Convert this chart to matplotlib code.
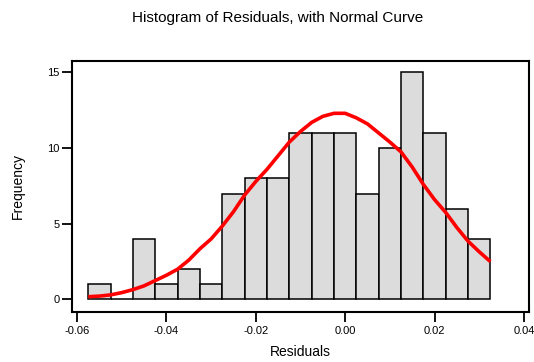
import numpy as np
import matplotlib
matplotlib.use("Agg")
import matplotlib.pyplot as plt

plt.rcParams['font.family'] = ['Liberation Sans', 'DejaVu Sans']

# histogram: bin edges and counts of the residuals
bin_edges = [-0.0575, -0.0525, -0.0475, -0.0425, -0.0375, -0.0325, -0.0275,
             -0.0225, -0.0175, -0.0125, -0.0075, -0.0025, 0.0025, 0.0075,
             0.0125, 0.0175, 0.0225, 0.0275, 0.0325]
counts = [1, 0, 4, 1, 2, 1, 7, 8, 8, 11, 11, 11, 7, 10, 15, 11, 6, 4]

# normal curve
curve_x = [-0.0575, -0.055, -0.0525, -0.05, -0.0475, -0.045, -0.0425, -0.04,
           -0.0375, -0.035, -0.0325, -0.03, -0.0275, -0.025, -0.0225, -0.02,
           -0.0175, -0.015, -0.0125, -0.01, -0.0075, -0.005, -0.0025, 0.0,
           0.0025, 0.005, 0.0075, 0.01, 0.0125, 0.015, 0.0175, 0.02, 0.0225,
           0.025, 0.0275, 0.03, 0.0325]
curve_y = [0.18, 0.22, 0.3, 0.45, 0.65, 0.9, 1.25, 1.6, 2.0, 2.6, 3.35, 4.0,
           4.85, 5.8, 6.9, 7.8, 8.6, 9.5, 10.4, 11.1, 11.7, 12.1, 12.3, 12.3,
           12.0, 11.6, 11.0, 10.4, 9.75, 8.75, 7.6, 6.6, 5.75, 4.75, 3.85,
           3.15, 2.5]

x_ticks = [-0.06, -0.04, -0.02, 0.00, 0.02, 0.04]
y_ticks = [0, 5, 10, 15]

fig = plt.figure(figsize=(5.34, 3.62), dpi=100)
ax = fig.add_axes([0.134, 0.139, 0.857, 0.693])

edges = np.array(bin_edges)
ax.bar(edges[:-1], counts, width=np.diff(edges), align='edge',
       color='#dcdcdc', edgecolor='black', linewidth=1.1, zorder=2)
ax.plot(curve_x, curve_y, color='red', linewidth=2.6, zorder=3,
        solid_capstyle='butt')

ax.set_xlim(-0.06125, 0.04119)
ax.set_ylim(-0.81, 15.77)
ax.set_xticks(x_ticks)
ax.set_xticklabels([f'{v:.2f}' for v in x_ticks])
ax.set_yticks(y_ticks)

for s in ax.spines.values():
    s.set_linewidth(1.5)
ax.tick_params(direction='out', length=7, width=1.3, labelsize=8,
               colors='black')
ax.tick_params(axis='x', pad=3)
ax.tick_params(axis='y', pad=1.5)

ax.set_xlabel('Residuals', fontsize=10, labelpad=7)
ax.set_ylabel('Frequency', fontsize=10, labelpad=16)
fig.text(0.519, 0.95, 'Histogram of Residuals, with Normal Curve',
         ha='center', va='center', fontsize=11)

fig.savefig('out.png', dpi=100)
